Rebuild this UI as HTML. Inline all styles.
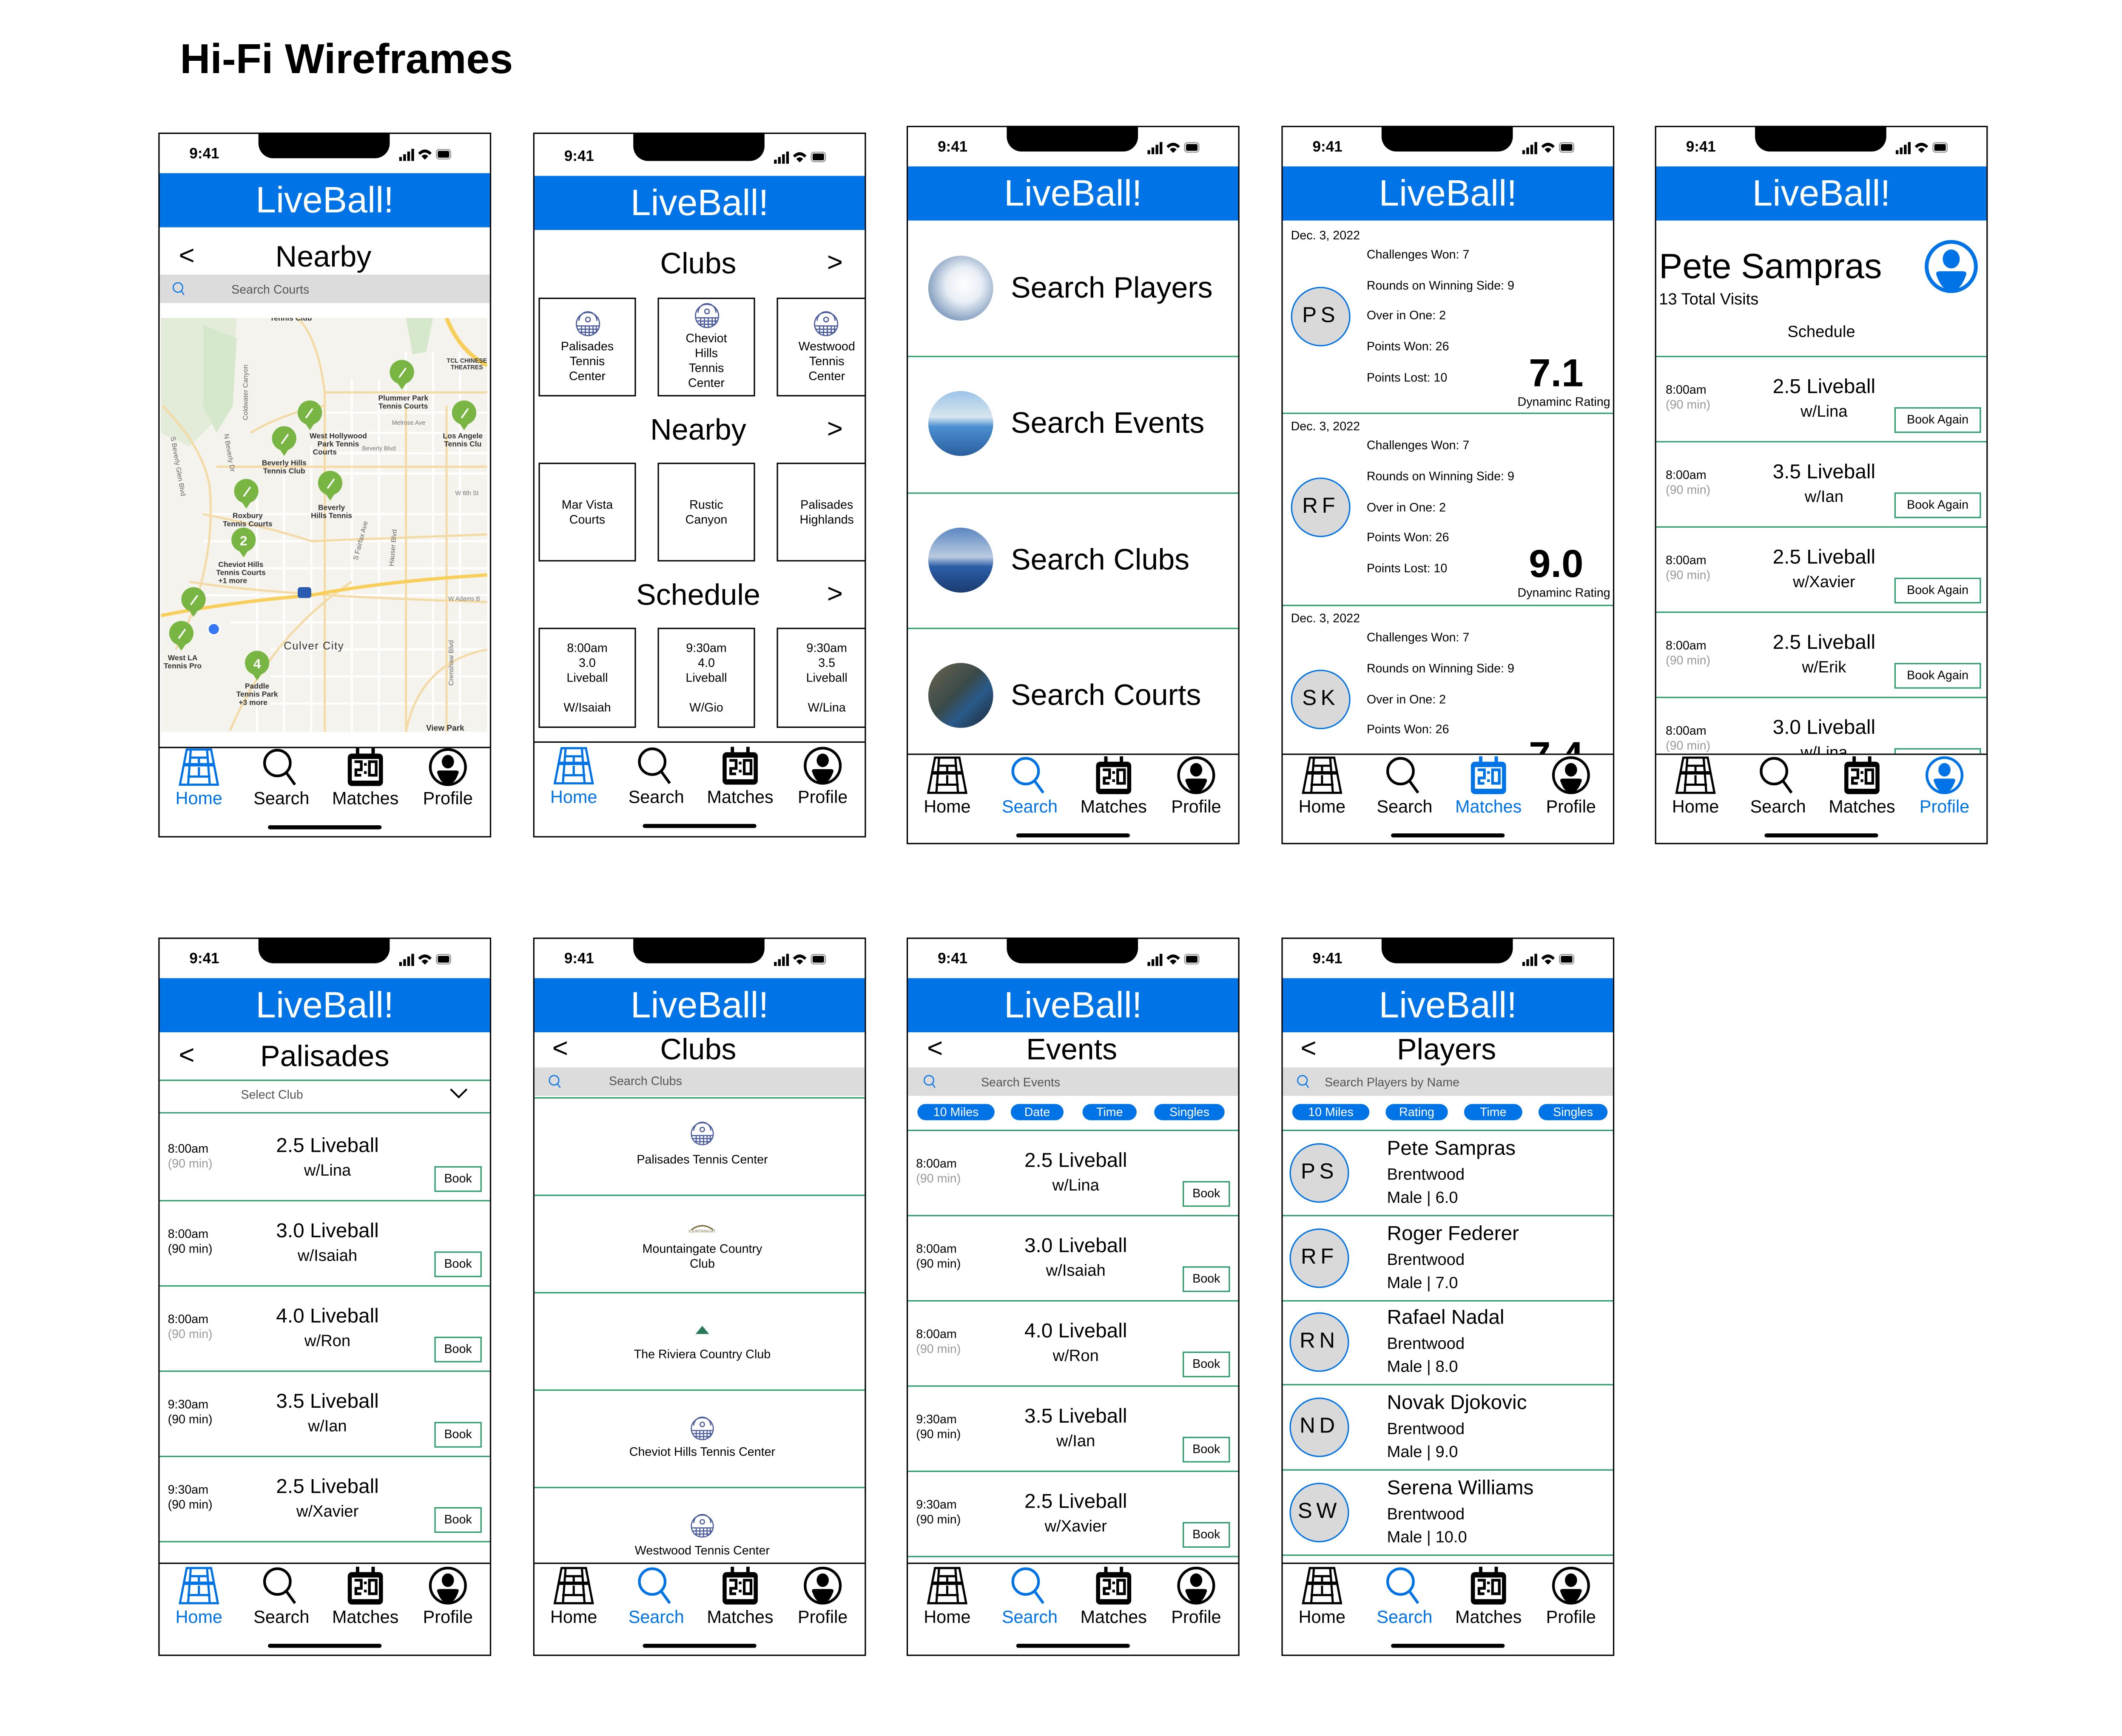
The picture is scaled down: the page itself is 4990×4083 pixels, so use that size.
<!DOCTYPE html>
<html><head><meta charset="utf-8">
<style>
body{margin:0;width:4990px;height:4080px;overflow:hidden;background:#fff}
#s{position:absolute;left:0;top:0;width:1570px;height:1283px;transform:scale(3.182);transform-origin:0 0;font-family:"Liberation Sans",sans-serif;color:#000}
#s div,#s svg{position:absolute}
.ph{border:1px solid #000;box-sizing:border-box;width:246px}
.c{transform:translate(-50%,-50%);white-space:nowrap}
.l{transform:translateY(-50%);white-space:nowrap}
.r{transform:translate(-100%,-50%);white-space:nowrap}
.hd{background:#0073e6;width:244px;height:40px;color:#fff;font-size:27px;text-align:center;line-height:40px}
.hl{height:1px;background:#000;width:244px}
.g{height:1px;background:#2a9d6a;width:244px}
.sb{background:#dcdcdc;height:21px;width:244px}
.bk{border:1px solid #2a9d6a;font-size:9px;text-align:center;box-sizing:border-box}
.ttl{font-size:22px;font-weight:300}
.ch{font-size:20px;font-weight:300}
.tm{font-size:9px}
.gr{color:#999}
.li{font-size:15px}
.w{font-size:12px}
.box{border:1px solid #000;box-sizing:border-box;width:72px;font-size:9px;text-align:center;line-height:11px}
.chip{background:#0073e6;color:#fff;font-size:9px;text-align:center;height:12px;line-height:12px;border-radius:6px}
.av{width:44px;height:44px;border-radius:50%;background:#d9d9d9;border:1px solid #0073e6;box-sizing:border-box;text-align:center;line-height:42px;font-size:16px;letter-spacing:3px}
.tb{width:246px;height:62px}
.tb .lb{font-size:13px}
.ind{width:84px;height:3px;border-radius:2px;background:#000;left:81px}
.st{width:246px;height:20px}
</style></head><body>
<svg width="0" height="0" style="position:absolute">
<defs>
<symbol id="court" viewBox="0 0 30 28"><g fill="none" stroke="currentColor" stroke-width="1.6"><path d="M6 1H24L29 27H1Z"/><path d="M9 1L7 27M21 1L23 27M8 7H22M15 7V11M15 14V21M6.5 21H23.5"/></g><rect x="4" y="11" width="22" height="2.5" fill="currentColor"/></symbol>
<symbol id="srch" viewBox="0 0 30 28"><circle cx="12" cy="11" r="9.5" fill="none" stroke="currentColor" stroke-width="2"/><path d="M18.5 18L25 27" stroke="currentColor" stroke-width="2"/></symbol>
<symbol id="mtch" viewBox="0 0 30 28"><rect x="2" y="4" width="26" height="24" rx="3" fill="currentColor"/><rect x="8" y="0" width="2.5" height="6" fill="currentColor"/><rect x="19.5" y="0" width="2.5" height="6" fill="currentColor"/><rect x="5" y="8" width="20" height="16" fill="#fff"/><path d="M7 10H12V16H8V20H12M15 11V13M15 17V19M18 10H23V20H18Z" fill="none" stroke="currentColor" stroke-width="2"/></symbol>
<symbol id="prof" viewBox="0 0 30 28"><ellipse cx="15" cy="14" rx="13" ry="13" fill="none" stroke="currentColor" stroke-width="2"/><ellipse cx="15" cy="10" rx="4.5" ry="5" fill="currentColor"/><path d="M7 18Q7 16.5 9 16.5H21Q23 16.5 23 18Q20 27 15 27Q10 27 7 18Z" fill="currentColor"/></symbol>
<symbol id="stat" viewBox="0 0 40 10"><rect x="0" y="7" width="2" height="3"/><rect x="3" y="5" width="2" height="5"/><rect x="6" y="3" width="2" height="7"/><rect x="9" y="1" width="2" height="9"/><path d="M14 4Q19 -1 24 4L22.5 5.5Q19 2 15.5 5.5ZM16.5 6.5Q19 4 21.5 6.5L19 9Z"/><rect x="27.5" y="1.5" width="10.5" height="7" rx="2" fill="none" stroke="#999" stroke-width="0.8"/><rect x="28.5" y="2.5" width="8.5" height="5" rx="1"/></symbol>
<symbol id="club" viewBox="0 0 20 20"><g fill="none" stroke="#4b5c9c" stroke-width="0.9"><circle cx="10" cy="10" r="9"/><path d="M3 7.5A7 7 0 0 1 17 7.5"/><path d="M1.2 11.5H18.8M1.5 14H18.5M3 16.5H17M5 11.5V18M8 11.5V19M11 11.5V19M14 11.5V18M16.5 11.5V16"/><circle cx="10" cy="6.5" r="1.8"/></g></symbol>
</defs></svg>
<div id="s">
<div style="left:133px;top:26px;font-size:31px;font-weight:bold;white-space:nowrap">Hi-Fi Wireframes</div>

<!-- ========== P1 Nearby map ========== -->
<div class="ph" style="left:117px;top:98px;height:521px"></div>
<div class="st" style="left:117px;top:98px"><div class="c" style="left:34px;top:16px;font-size:11px;font-weight:bold">9:41</div><div style="left:74px;top:0;width:97px;height:19px;background:#000;border-radius:0 0 11px 11px"></div><svg style="left:178px;top:11px" width="40" height="10"><use href="#stat"/></svg></div>
<div class="hd" style="left:118px;top:128px">LiveBall!</div>
<div class="c ch" style="left:138px;top:190px">&lt;</div>
<div class="c ttl" style="left:239px;top:190px">Nearby</div>
<div class="sb" style="left:118px;top:203px"></div>
<svg style="left:127px;top:208px" width="10" height="11" viewBox="0 0 10 11"><circle cx="4.5" cy="4.5" r="3.5" fill="none" stroke="#0073e6" stroke-width="0.8"/><path d="M7 7L9 10" stroke="#0073e6" stroke-width="0.8"/></svg>
<div class="l tm" style="left:171px;top:214px;color:#555">Search Courts</div>
<svg style="left:119px;top:235px" width="241" height="306" viewBox="119 235 241 306">
<rect x="119" y="235" width="241" height="306" fill="#f5f3ee"/>
<path d="M119 235H175L170 300L140 330L119 320Z" fill="#e2ecd9"/>
<path d="M150 240L175 250L172 300L160 320L150 300Z" fill="#d6e8cc"/>
<path d="M300 235H320L315 260L305 262Z" fill="#d6e8cc"/>
<g stroke="#fff" stroke-width="1.6" fill="none">
<path d="M240 290H360M240 305H360M240 320H360M240 335H360M240 350H360M260 280V541M280 280V541M300 260V541M320 260V541M340 260V541"/>
<path d="M150 380H360M150 400H360M160 420H360M150 440H360M170 460H360M200 480H360M200 500H360M200 520H360M190 360V541M210 350V541M230 330V541"/>
</g>
<g stroke="#f4dba5" stroke-width="1.6" fill="none">
<path d="M220 235Q235 250 240 290V541M240 290H360M185 320Q210 305 240 300M160 345H360M150 380Q200 390 230 400L360 395M140 430Q200 440 360 445M170 540Q200 470 260 430M300 300V541M330 300V541M120 300Q150 330 155 360Q160 420 130 480M360 480Q310 490 300 541"/>
</g>
<path d="M330 235Q340 260 360 270" stroke="#f7cf5a" stroke-width="3" fill="none"/>
<path d="M119 455Q170 445 230 440Q280 430 360 425" stroke="#f7cf5a" stroke-width="2.5" fill="none"/>
<g font-family="Liberation Sans" font-size="5.5" font-weight="bold" fill="#333" text-anchor="middle">
<text x="215" y="237">Tennis Club</text>
<text x="298" y="296">Plummer Park</text><text x="298" y="302">Tennis Courts</text>
<text x="345" y="268" font-size="4.5">TCL CHINESE</text><text x="345" y="273" font-size="4.5">THEATRES</text>
<text x="250" y="324">West Hollywood</text><text x="250" y="330">Park Tennis</text><text x="240" y="336">Courts</text>
<text x="210" y="344">Beverly Hills</text><text x="210" y="350">Tennis Club</text>
<text x="245" y="377">Beverly</text><text x="245" y="383">Hills Tennis</text>
<text x="183" y="383">Roxbury</text><text x="183" y="389">Tennis Courts</text>
<text x="178" y="419">Cheviot Hills</text><text x="178" y="425">Tennis Courts</text><text x="172" y="431">+1 more</text>
<text x="342" y="324">Los Angele</text><text x="342" y="330">Tennis Clu</text>
<text x="135" y="488">West LA</text><text x="135" y="494">Tennis Pro</text>
<text x="190" y="509">Paddle</text><text x="190" y="515">Tennis Park</text><text x="187" y="521">+3 more</text>
<text x="232" y="480" font-size="8" font-weight="normal" letter-spacing="0.5">Culver City</text>
<text x="329" y="540" font-size="6">View Park</text>
<text x="302" y="314" font-size="4.5" font-weight="normal" fill="#777">Melrose Ave</text>
<text x="280" y="333" font-size="4.5" font-weight="normal" fill="#777">Beverly Blvd</text>
<text x="345" y="366" font-size="4.5" font-weight="normal" fill="#777">W 6th St</text>
<text x="343" y="444" font-size="4.5" font-weight="normal" fill="#777">W Adams B</text>
<text transform="translate(183 290) rotate(-90)" font-size="5" font-weight="normal" fill="#666">Coldwater Canyon</text>
<text transform="translate(168 335) rotate(80)" font-size="5" font-weight="normal" fill="#666">N Beverly Dr</text>
<text transform="translate(130 345) rotate(80)" font-size="5" font-weight="normal" fill="#666">S Beverly Glen Blvd</text>
<text transform="translate(268 400) rotate(-75)" font-size="5" font-weight="normal" fill="#666">S Fairfax Ave</text>
<text transform="translate(292 405) rotate(-85)" font-size="5" font-weight="normal" fill="#666">Hauser Blvd</text>
<text transform="translate(335 490) rotate(-90)" font-size="5" font-weight="normal" fill="#666">Crenshaw Blvd</text>
</g>
<g fill="#78b543">
<circle cx="297" cy="275" r="9"/><path d="M293 282L297 288L301 282Z"/>
<circle cx="229" cy="305" r="9"/><path d="M225 312L229 318L233 312Z"/>
<circle cx="343" cy="305" r="9"/><path d="M339 312L343 318L347 312Z"/>
<circle cx="210" cy="324" r="9"/><path d="M206 331L210 337L214 331Z"/>
<circle cx="244" cy="357" r="9"/><path d="M240 364L244 370L248 364Z"/>
<circle cx="182" cy="363" r="9"/><path d="M178 370L182 376L186 370Z"/>
<circle cx="180" cy="399" r="9"/><path d="M176 406L180 412L184 406Z"/>
<circle cx="143" cy="443" r="9"/><path d="M139 450L143 456L147 450Z"/>
<circle cx="134" cy="468" r="9"/><path d="M130 475L134 481L138 475Z"/>
<circle cx="190" cy="490" r="9"/><path d="M186 497L190 503L194 497Z"/>
</g>
<g stroke="#fff" stroke-width="1.2" fill="none">
<path d="M295 279L300 272M226 309L231 302M341 309L346 302M208 328L213 321M242 361L247 354M180 367L185 360M141 447L146 440M132 472L137 465"/>
</g>
<text x="180" y="403" font-size="10" font-weight="bold" fill="#fff" text-anchor="middle" font-family="Liberation Sans">2</text>
<text x="190" y="494" font-size="10" font-weight="bold" fill="#fff" text-anchor="middle" font-family="Liberation Sans">4</text>
<circle cx="158" cy="465" r="5" fill="#fff"/><circle cx="158" cy="465" r="3.8" fill="#3478f6"/>
<rect x="220" y="434" width="10" height="8" rx="2" fill="#2a5bb0"/>
</svg>
<div class="hl" style="left:118px;top:552px"></div>
<div class="tb" style="left:117px;top:553px">
<svg style="left:15px;top:0;color:#0073e6" width="30" height="28"><use href="#court"/></svg>
<svg style="left:76px;top:0" width="30" height="28"><use href="#srch"/></svg>
<svg style="left:138px;top:0" width="30" height="28"><use href="#mtch"/></svg>
<svg style="left:199px;top:0" width="30" height="28"><use href="#prof"/></svg>
<div class="c lb" style="left:30px;top:37px;color:#0073e6">Home</div>
<div class="c lb" style="left:91px;top:37px">Search</div>
<div class="c lb" style="left:153px;top:37px">Matches</div>
<div class="c lb" style="left:214px;top:37px">Profile</div>
<div class="ind" style="top:57px"></div>
</div>

<!-- ========== P2 Home ========== -->
<div class="ph" style="left:394px;top:98px;height:521px"></div>
<div class="st" style="left:394px;top:100px"><div class="c" style="left:34px;top:16px;font-size:11px;font-weight:bold">9:41</div><div style="left:74px;top:-2px;width:97px;height:21px;background:#000;border-radius:0 0 11px 11px"></div><svg style="left:178px;top:11px" width="40" height="10"><use href="#stat"/></svg></div>
<div class="hd" style="left:395px;top:130px">LiveBall!</div>
<div class="c ttl" style="left:516px;top:195px">Clubs</div><div class="c ch" style="left:617px;top:195px">&gt;</div>
<div class="box" style="left:398px;top:220px;height:73px"><svg style="left:26px;top:9px" width="19" height="19"><use href="#club"/></svg><div style="left:0;width:70px;top:30px">Palisades<br>Tennis<br>Center</div></div>
<div class="box" style="left:486px;top:220px;height:73px"><svg style="left:26px;top:3px" width="19" height="19"><use href="#club"/></svg><div style="left:0;width:70px;top:24px">Cheviot<br>Hills<br>Tennis<br>Center</div></div>
<div class="box" style="left:574px;top:220px;height:73px;width:66px;border-right:none"><svg style="left:26px;top:9px" width="19" height="19"><use href="#club"/></svg><div style="left:0;width:72px;top:30px">Westwood<br>Tennis<br>Center</div></div>
<div class="c ttl" style="left:516px;top:318px">Nearby</div><div class="c ch" style="left:617px;top:318px">&gt;</div>
<div class="box" style="left:398px;top:342px;height:73px"><div style="left:0;width:70px;top:25px">Mar Vista<br>Courts</div></div>
<div class="box" style="left:486px;top:342px;height:73px"><div style="left:0;width:70px;top:25px">Rustic<br>Canyon</div></div>
<div class="box" style="left:574px;top:342px;height:73px;width:66px;border-right:none"><div style="left:0;width:72px;top:25px">Palisades<br>Highlands</div></div>
<div class="c ttl" style="left:516px;top:440px">Schedule</div><div class="c ch" style="left:617px;top:440px">&gt;</div>
<div class="box" style="left:398px;top:464px;height:74px"><div style="left:0;width:70px;top:9px">8:00am<br>3.0<br>Liveball<br><br>W/Isaiah</div></div>
<div class="box" style="left:486px;top:464px;height:74px"><div style="left:0;width:70px;top:9px">9:30am<br>4.0<br>Liveball<br><br>W/Gio</div></div>
<div class="box" style="left:574px;top:464px;height:74px;width:66px;border-right:none"><div style="left:0;width:72px;top:9px">9:30am<br>3.5<br>Liveball<br><br>W/Lina</div></div>
<div class="hl" style="left:395px;top:548px"></div>
<div class="tb" style="left:394px;top:552px">
<svg style="left:15px;top:0;color:#0073e6" width="30" height="28"><use href="#court"/></svg>
<svg style="left:76px;top:0" width="30" height="28"><use href="#srch"/></svg>
<svg style="left:138px;top:0" width="30" height="28"><use href="#mtch"/></svg>
<svg style="left:199px;top:0" width="30" height="28"><use href="#prof"/></svg>
<div class="c lb" style="left:30px;top:37px;color:#0073e6">Home</div>
<div class="c lb" style="left:91px;top:37px">Search</div>
<div class="c lb" style="left:153px;top:37px">Matches</div>
<div class="c lb" style="left:214px;top:37px">Profile</div>
<div class="ind" style="top:57px"></div>
</div>

<!-- ========== P3 Search ========== -->
<div class="ph" style="left:670px;top:93px;height:531px"></div>
<div class="st" style="left:670px;top:93px"><div class="c" style="left:34px;top:16px;font-size:11px;font-weight:bold">9:41</div><div style="left:74px;top:0;width:97px;height:19px;background:#000;border-radius:0 0 11px 11px"></div><svg style="left:178px;top:11px" width="40" height="10"><use href="#stat"/></svg></div>
<div class="hd" style="left:671px;top:123px">LiveBall!</div>
<div style="left:686px;top:189px;width:48px;height:48px;border-radius:50%;background:radial-gradient(circle at 55% 45%,#fff 0,#e8eef5 35%,#8aa4c4 70%,#5a6d8a 100%)"></div>
<div style="left:686px;top:289px;width:48px;height:48px;border-radius:50%;background:linear-gradient(#9cc4e8 0,#d8e6ef 40%,#4b8fd0 55%,#2a5f9e 100%)"></div>
<div style="left:686px;top:390px;width:48px;height:48px;border-radius:50%;background:linear-gradient(#5b86c2 0,#b9cbe0 45%,#2c5ea8 60%,#1a3c70 100%)"></div>
<div style="left:686px;top:490px;width:48px;height:48px;border-radius:50%;background:linear-gradient(135deg,#6a6550 0,#3a4a48 45%,#2a5a8a 65%,#1c2630 100%)"></div>
<div class="l" style="left:747px;top:213px;font-size:22px">Search Players</div>
<div class="l" style="left:747px;top:313px;font-size:22px">Search Events</div>
<div class="l" style="left:747px;top:414px;font-size:22px">Search Clubs</div>
<div class="l" style="left:747px;top:514px;font-size:22px">Search Courts</div>
<div class="g" style="left:671px;top:263px"></div>
<div class="g" style="left:671px;top:364px"></div>
<div class="g" style="left:671px;top:464px"></div>
<div class="hl" style="left:671px;top:557px"></div>
<div class="tb" style="left:670px;top:559px">
<svg style="left:15px;top:0" width="30" height="28"><use href="#court"/></svg>
<svg style="left:76px;top:0;color:#0073e6" width="30" height="28"><use href="#srch"/></svg>
<svg style="left:138px;top:0" width="30" height="28"><use href="#mtch"/></svg>
<svg style="left:199px;top:0" width="30" height="28"><use href="#prof"/></svg>
<div class="c lb" style="left:30px;top:37px">Home</div>
<div class="c lb" style="left:91px;top:37px;color:#0073e6">Search</div>
<div class="c lb" style="left:153px;top:37px">Matches</div>
<div class="c lb" style="left:214px;top:37px">Profile</div>
<div class="ind" style="top:57px"></div>
</div>

<!-- ========== P4 Matches ========== -->
<div class="ph" style="left:947px;top:93px;height:531px"></div>
<div class="st" style="left:947px;top:93px"><div class="c" style="left:34px;top:16px;font-size:11px;font-weight:bold">9:41</div><div style="left:74px;top:0;width:97px;height:19px;background:#000;border-radius:0 0 11px 11px"></div><svg style="left:178px;top:11px" width="40" height="10"><use href="#stat"/></svg></div>
<div class="hd" style="left:948px;top:123px">LiveBall!</div>
<div style="left:948px;top:163px;width:244px;height:394px;overflow:hidden">
<div class="l tm" style="left:6px;top:11px">Dec. 3, 2022</div>
<div class="l tm" style="left:62px;top:25px">Challenges Won: 7</div>
<div class="l tm" style="left:62px;top:48px">Rounds on Winning Side: 9</div>
<div class="l tm" style="left:62px;top:70px">Over in One: 2</div>
<div class="l tm" style="left:62px;top:93px">Points Won: 26</div>
<div class="l tm" style="left:62px;top:116px">Points Lost: 10</div>
<div class="av" style="left:6px;top:49px">PS</div>
<div class="c" style="left:202px;top:114px;font-size:29px;font-weight:bold">7.1</div>
<div class="r tm" style="left:242px;top:134px">Dynaminc Rating</div>
<div class="g" style="left:0;top:142px"></div>
<div class="l tm" style="left:6px;top:152px">Dec. 3, 2022</div>
<div class="l tm" style="left:62px;top:166px">Challenges Won: 7</div>
<div class="l tm" style="left:62px;top:189px">Rounds on Winning Side: 9</div>
<div class="l tm" style="left:62px;top:212px">Over in One: 2</div>
<div class="l tm" style="left:62px;top:234px">Points Won: 26</div>
<div class="l tm" style="left:62px;top:257px">Points Lost: 10</div>
<div class="av" style="left:6px;top:190px">RF</div>
<div class="c" style="left:202px;top:255px;font-size:29px;font-weight:bold">9.0</div>
<div class="r tm" style="left:242px;top:275px">Dynaminc Rating</div>
<div class="g" style="left:0;top:284px"></div>
<div class="l tm" style="left:6px;top:294px">Dec. 3, 2022</div>
<div class="l tm" style="left:62px;top:308px">Challenges Won: 7</div>
<div class="l tm" style="left:62px;top:331px">Rounds on Winning Side: 9</div>
<div class="l tm" style="left:62px;top:354px">Over in One: 2</div>
<div class="l tm" style="left:62px;top:376px">Points Won: 26</div>
<div class="av" style="left:6px;top:332px">SK</div>
<div class="c" style="left:202px;top:397px;font-size:29px;font-weight:bold">7.4</div>
</div>
<div class="hl" style="left:948px;top:557px"></div>
<div class="tb" style="left:947px;top:559px">
<svg style="left:15px;top:0" width="30" height="28"><use href="#court"/></svg>
<svg style="left:76px;top:0" width="30" height="28"><use href="#srch"/></svg>
<svg style="left:138px;top:0;color:#0073e6" width="30" height="28"><use href="#mtch"/></svg>
<svg style="left:199px;top:0" width="30" height="28"><use href="#prof"/></svg>
<div class="c lb" style="left:30px;top:37px">Home</div>
<div class="c lb" style="left:91px;top:37px">Search</div>
<div class="c lb" style="left:153px;top:37px;color:#0073e6">Matches</div>
<div class="c lb" style="left:214px;top:37px">Profile</div>
<div class="ind" style="top:57px"></div>
</div>

<!-- ========== P5 Profile ========== -->
<div class="ph" style="left:1223px;top:93px;height:531px"></div>
<div class="st" style="left:1223px;top:93px"><div class="c" style="left:34px;top:16px;font-size:11px;font-weight:bold">9:41</div><div style="left:74px;top:0;width:97px;height:19px;background:#000;border-radius:0 0 11px 11px"></div><svg style="left:178px;top:11px" width="40" height="10"><use href="#stat"/></svg></div>
<div class="hd" style="left:1224px;top:123px">LiveBall!</div>
<div class="l" style="left:1226px;top:197px;font-size:26px">Pete Sampras</div>
<div class="l" style="left:1226px;top:221px;font-size:12px">13 Total Visits</div>
<svg style="left:1421px;top:177px;color:#0073e6" width="42" height="40" viewBox="0 0 30 28"><use href="#prof"/></svg>
<div class="c" style="left:1346px;top:245px;font-size:12px">Schedule</div>
<div style="left:1224px;top:263px;width:244px;height:294px;overflow:hidden">
<div class="g" style="left:0;top:0"></div>
<div class="l tm" style="left:7px;top:25px">8:00am</div><div class="l tm gr" style="left:7px;top:36px">(90 min)</div><div class="c li" style="left:124px;top:23px">2.5 Liveball</div><div class="c w" style="left:124px;top:41px">w/Lina</div><div class="bk" style="left:176px;top:38px;width:64px;height:19px;line-height:17px">Book Again</div>
<div class="g" style="left:0;top:63px"></div>
<div class="l tm" style="left:7px;top:88px">8:00am</div><div class="l tm gr" style="left:7px;top:99px">(90 min)</div><div class="c li" style="left:124px;top:86px">3.5 Liveball</div><div class="c w" style="left:124px;top:104px">w/Ian</div><div class="bk" style="left:176px;top:101px;width:64px;height:19px;line-height:17px">Book Again</div>
<div class="g" style="left:0;top:126px"></div>
<div class="l tm" style="left:7px;top:151px">8:00am</div><div class="l tm gr" style="left:7px;top:162px">(90 min)</div><div class="c li" style="left:124px;top:149px">2.5 Liveball</div><div class="c w" style="left:124px;top:167px">w/Xavier</div><div class="bk" style="left:176px;top:164px;width:64px;height:19px;line-height:17px">Book Again</div>
<div class="g" style="left:0;top:189px"></div>
<div class="l tm" style="left:7px;top:214px">8:00am</div><div class="l tm gr" style="left:7px;top:225px">(90 min)</div><div class="c li" style="left:124px;top:212px">2.5 Liveball</div><div class="c w" style="left:124px;top:230px">w/Erik</div><div class="bk" style="left:176px;top:227px;width:64px;height:19px;line-height:17px">Book Again</div>
<div class="g" style="left:0;top:252px"></div>
<div class="l tm" style="left:7px;top:277px">8:00am</div><div class="l tm gr" style="left:7px;top:288px">(90 min)</div><div class="c li" style="left:124px;top:275px">3.0 Liveball</div><div class="c w" style="left:124px;top:293px">w/Lina</div><div class="bk" style="left:176px;top:290px;width:64px;height:19px"></div>
</div>
<div class="hl" style="left:1224px;top:557px"></div>
<div class="tb" style="left:1223px;top:559px">
<svg style="left:15px;top:0" width="30" height="28"><use href="#court"/></svg>
<svg style="left:76px;top:0" width="30" height="28"><use href="#srch"/></svg>
<svg style="left:138px;top:0" width="30" height="28"><use href="#mtch"/></svg>
<svg style="left:199px;top:0;color:#0073e6" width="30" height="28"><use href="#prof"/></svg>
<div class="c lb" style="left:30px;top:37px">Home</div>
<div class="c lb" style="left:91px;top:37px">Search</div>
<div class="c lb" style="left:153px;top:37px">Matches</div>
<div class="c lb" style="left:214px;top:37px;color:#0073e6">Profile</div>
<div class="ind" style="top:57px"></div>
</div>

<!-- ========== P6 Palisades ========== -->
<div class="ph" style="left:117px;top:693px;height:531px"></div>
<div class="st" style="left:117px;top:693px"><div class="c" style="left:34px;top:16px;font-size:11px;font-weight:bold">9:41</div><div style="left:74px;top:0;width:97px;height:19px;background:#000;border-radius:0 0 11px 11px"></div><svg style="left:178px;top:11px" width="40" height="10"><use href="#stat"/></svg></div>
<div class="hd" style="left:118px;top:723px">LiveBall!</div>
<div class="c ch" style="left:138px;top:781px">&lt;</div>
<div class="c ttl" style="left:240px;top:781px">Palisades</div>
<div class="g" style="left:118px;top:798px"></div>
<div class="l tm" style="left:178px;top:809px;color:#555">Select Club</div>
<svg style="left:332px;top:804px" width="14" height="9" viewBox="0 0 14 9"><path d="M1 1L7 7L13 1" fill="none" stroke="#000" stroke-width="1.3"/></svg>
<div style="left:118px;top:822px;width:244px;height:333px;overflow:hidden">
<div class="g" style="left:0;top:0"></div>
<div class="l tm" style="left:6px;top:27px">8:00am</div><div class="l tm gr" style="left:6px;top:38px">(90 min)</div><div class="c li" style="left:124px;top:25px">2.5 Liveball</div><div class="c w" style="left:124px;top:43px">w/Lina</div><div class="bk" style="left:203px;top:40px;width:35px;height:19px;line-height:17px">Book</div>
<div class="g" style="left:0;top:65px"></div>
<div class="l tm" style="left:6px;top:90px">8:00am</div><div class="l tm" style="left:6px;top:101px">(90 min)</div><div class="c li" style="left:124px;top:88px">3.0 Liveball</div><div class="c w" style="left:124px;top:106px">w/Isaiah</div><div class="bk" style="left:203px;top:103px;width:35px;height:19px;line-height:17px">Book</div>
<div class="g" style="left:0;top:128px"></div>
<div class="l tm" style="left:6px;top:153px">8:00am</div><div class="l tm gr" style="left:6px;top:164px">(90 min)</div><div class="c li" style="left:124px;top:151px">4.0 Liveball</div><div class="c w" style="left:124px;top:169px">w/Ron</div><div class="bk" style="left:203px;top:166px;width:35px;height:19px;line-height:17px">Book</div>
<div class="g" style="left:0;top:191px"></div>
<div class="l tm" style="left:6px;top:216px">9:30am</div><div class="l tm" style="left:6px;top:227px">(90 min)</div><div class="c li" style="left:124px;top:214px">3.5 Liveball</div><div class="c w" style="left:124px;top:232px">w/Ian</div><div class="bk" style="left:203px;top:229px;width:35px;height:19px;line-height:17px">Book</div>
<div class="g" style="left:0;top:254px"></div>
<div class="l tm" style="left:6px;top:279px">9:30am</div><div class="l tm" style="left:6px;top:290px">(90 min)</div><div class="c li" style="left:124px;top:277px">2.5 Liveball</div><div class="c w" style="left:124px;top:295px">w/Xavier</div><div class="bk" style="left:203px;top:292px;width:35px;height:19px;line-height:17px">Book</div>
<div class="g" style="left:0;top:317px"></div>
</div>
<div class="hl" style="left:118px;top:1155px"></div>
<div class="tb" style="left:117px;top:1158px">
<svg style="left:15px;top:0;color:#0073e6" width="30" height="28"><use href="#court"/></svg>
<svg style="left:76px;top:0" width="30" height="28"><use href="#srch"/></svg>
<svg style="left:138px;top:0" width="30" height="28"><use href="#mtch"/></svg>
<svg style="left:199px;top:0" width="30" height="28"><use href="#prof"/></svg>
<div class="c lb" style="left:30px;top:37px;color:#0073e6">Home</div>
<div class="c lb" style="left:91px;top:37px">Search</div>
<div class="c lb" style="left:153px;top:37px">Matches</div>
<div class="c lb" style="left:214px;top:37px">Profile</div>
<div class="ind" style="top:57px"></div>
</div>

<!-- ========== P7 Clubs ========== -->
<div class="ph" style="left:394px;top:693px;height:531px"></div>
<div class="st" style="left:394px;top:693px"><div class="c" style="left:34px;top:16px;font-size:11px;font-weight:bold">9:41</div><div style="left:74px;top:0;width:97px;height:19px;background:#000;border-radius:0 0 11px 11px"></div><svg style="left:178px;top:11px" width="40" height="10"><use href="#stat"/></svg></div>
<div class="hd" style="left:395px;top:723px">LiveBall!</div>
<div class="c ch" style="left:414px;top:776px">&lt;</div>
<div class="c ttl" style="left:516px;top:776px">Clubs</div>
<div class="sb" style="left:395px;top:789px"></div>
<svg style="left:405px;top:794px" width="10" height="11" viewBox="0 0 10 11"><circle cx="4.5" cy="4.5" r="3.5" fill="none" stroke="#0073e6" stroke-width="0.8"/><path d="M7 7L9 10" stroke="#0073e6" stroke-width="0.8"/></svg>
<div class="l tm" style="left:450px;top:799px;color:#555">Search Clubs</div>
<div class="g" style="left:395px;top:811px"></div>
<svg style="left:510px;top:829px" width="18" height="18"><use href="#club"/></svg>
<div class="c tm" style="left:519px;top:857px">Palisades Tennis Center</div>
<div class="g" style="left:395px;top:883px"></div>
<svg style="left:509px;top:903px" width="20" height="8" viewBox="0 0 20 8"><path d="M2 6Q10 0 18 6" fill="none" stroke="#7a6a3a" stroke-width="1"/><text x="10" y="8" font-size="3" text-anchor="middle" fill="#7a6a3a" font-family="Liberation Sans">MOUNTAINGATE</text></svg>
<div class="c tm" style="left:519px;top:929px;text-align:center;line-height:11px">Mountaingate Country<br>Club</div>
<div class="g" style="left:395px;top:955px"></div>
<svg style="left:513px;top:979px" width="12" height="8" viewBox="0 0 12 8"><path d="M1 7L6 1L11 7Z" fill="#2a7a5a"/></svg>
<div class="c tm" style="left:519px;top:1001px">The Riviera Country Club</div>
<div class="g" style="left:395px;top:1027px"></div>
<svg style="left:510px;top:1047px" width="18" height="18"><use href="#club"/></svg>
<div class="c tm" style="left:519px;top:1073px">Cheviot Hills Tennis Center</div>
<div class="g" style="left:395px;top:1099px"></div>
<svg style="left:510px;top:1119px" width="18" height="18"><use href="#club"/></svg>
<div class="c tm" style="left:519px;top:1146px">Westwood Tennis Center</div>
<div class="hl" style="left:395px;top:1155px"></div>
<div class="tb" style="left:394px;top:1158px">
<svg style="left:15px;top:0" width="30" height="28"><use href="#court"/></svg>
<svg style="left:76px;top:0;color:#0073e6" width="30" height="28"><use href="#srch"/></svg>
<svg style="left:138px;top:0" width="30" height="28"><use href="#mtch"/></svg>
<svg style="left:199px;top:0" width="30" height="28"><use href="#prof"/></svg>
<div class="c lb" style="left:30px;top:37px">Home</div>
<div class="c lb" style="left:91px;top:37px;color:#0073e6">Search</div>
<div class="c lb" style="left:153px;top:37px">Matches</div>
<div class="c lb" style="left:214px;top:37px">Profile</div>
<div class="ind" style="top:57px"></div>
</div>

<!-- ========== P8 Events ========== -->
<div class="ph" style="left:670px;top:693px;height:531px"></div>
<div class="st" style="left:670px;top:693px"><div class="c" style="left:34px;top:16px;font-size:11px;font-weight:bold">9:41</div><div style="left:74px;top:0;width:97px;height:19px;background:#000;border-radius:0 0 11px 11px"></div><svg style="left:178px;top:11px" width="40" height="10"><use href="#stat"/></svg></div>
<div class="hd" style="left:671px;top:723px">LiveBall!</div>
<div class="c ch" style="left:691px;top:776px">&lt;</div>
<div class="c ttl" style="left:792px;top:776px">Events</div>
<div class="sb" style="left:671px;top:789px"></div>
<svg style="left:682px;top:794px" width="10" height="11" viewBox="0 0 10 11"><circle cx="4.5" cy="4.5" r="3.5" fill="none" stroke="#0073e6" stroke-width="0.8"/><path d="M7 7L9 10" stroke="#0073e6" stroke-width="0.8"/></svg>
<div class="l tm" style="left:725px;top:800px;color:#555">Search Events</div>
<div class="chip" style="left:678px;top:816px;width:57px">10 Miles</div>
<div class="chip" style="left:747px;top:816px;width:39px">Date</div>
<div class="chip" style="left:800px;top:816px;width:40px">Time</div>
<div class="chip" style="left:853px;top:816px;width:52px">Singles</div>
<div style="left:671px;top:835px;width:244px;height:320px;overflow:hidden">
<div class="g" style="left:0;top:0"></div>
<div class="l tm" style="left:6px;top:25px">8:00am</div><div class="l tm gr" style="left:6px;top:36px">(90 min)</div><div class="c li" style="left:124px;top:23px">2.5 Liveball</div><div class="c w" style="left:124px;top:41px">w/Lina</div><div class="bk" style="left:203px;top:38px;width:35px;height:19px;line-height:17px">Book</div>
<div class="g" style="left:0;top:63px"></div>
<div class="l tm" style="left:6px;top:88px">8:00am</div><div class="l tm" style="left:6px;top:99px">(90 min)</div><div class="c li" style="left:124px;top:86px">3.0 Liveball</div><div class="c w" style="left:124px;top:104px">w/Isaiah</div><div class="bk" style="left:203px;top:101px;width:35px;height:19px;line-height:17px">Book</div>
<div class="g" style="left:0;top:126px"></div>
<div class="l tm" style="left:6px;top:151px">8:00am</div><div class="l tm gr" style="left:6px;top:162px">(90 min)</div><div class="c li" style="left:124px;top:149px">4.0 Liveball</div><div class="c w" style="left:124px;top:167px">w/Ron</div><div class="bk" style="left:203px;top:164px;width:35px;height:19px;line-height:17px">Book</div>
<div class="g" style="left:0;top:189px"></div>
<div class="l tm" style="left:6px;top:214px">9:30am</div><div class="l tm" style="left:6px;top:225px">(90 min)</div><div class="c li" style="left:124px;top:212px">3.5 Liveball</div><div class="c w" style="left:124px;top:230px">w/Ian</div><div class="bk" style="left:203px;top:227px;width:35px;height:19px;line-height:17px">Book</div>
<div class="g" style="left:0;top:252px"></div>
<div class="l tm" style="left:6px;top:277px">9:30am</div><div class="l tm" style="left:6px;top:288px">(90 min)</div><div class="c li" style="left:124px;top:275px">2.5 Liveball</div><div class="c w" style="left:124px;top:293px">w/Xavier</div><div class="bk" style="left:203px;top:290px;width:35px;height:19px;line-height:17px">Book</div>
<div class="g" style="left:0;top:315px"></div>
</div>
<div class="hl" style="left:671px;top:1155px"></div>
<div class="tb" style="left:670px;top:1158px">
<svg style="left:15px;top:0" width="30" height="28"><use href="#court"/></svg>
<svg style="left:76px;top:0;color:#0073e6" width="30" height="28"><use href="#srch"/></svg>
<svg style="left:138px;top:0" width="30" height="28"><use href="#mtch"/></svg>
<svg style="left:199px;top:0" width="30" height="28"><use href="#prof"/></svg>
<div class="c lb" style="left:30px;top:37px">Home</div>
<div class="c lb" style="left:91px;top:37px;color:#0073e6">Search</div>
<div class="c lb" style="left:153px;top:37px">Matches</div>
<div class="c lb" style="left:214px;top:37px">Profile</div>
<div class="ind" style="top:57px"></div>
</div>

<!-- ========== P9 Players ========== -->
<div class="ph" style="left:947px;top:693px;height:531px"></div>
<div class="st" style="left:947px;top:693px"><div class="c" style="left:34px;top:16px;font-size:11px;font-weight:bold">9:41</div><div style="left:74px;top:0;width:97px;height:19px;background:#000;border-radius:0 0 11px 11px"></div><svg style="left:178px;top:11px" width="40" height="10"><use href="#stat"/></svg></div>
<div class="hd" style="left:948px;top:723px">LiveBall!</div>
<div class="c ch" style="left:967px;top:776px">&lt;</div>
<div class="c ttl" style="left:1069px;top:776px">Players</div>
<div class="sb" style="left:948px;top:789px"></div>
<svg style="left:958px;top:794px" width="10" height="11" viewBox="0 0 10 11"><circle cx="4.5" cy="4.5" r="3.5" fill="none" stroke="#0073e6" stroke-width="0.8"/><path d="M7 7L9 10" stroke="#0073e6" stroke-width="0.8"/></svg>
<div class="l tm" style="left:979px;top:800px;color:#555">Search Players by Name</div>
<div class="chip" style="left:955px;top:816px;width:57px">10 Miles</div>
<div class="chip" style="left:1024px;top:816px;width:46px">Rating</div>
<div class="chip" style="left:1082px;top:816px;width:43px">Time</div>
<div class="chip" style="left:1137px;top:816px;width:51px">Singles</div>
<div class="g" style="left:948px;top:835px"></div>
<div class="av" style="left:953px;top:845px">PS</div><div class="l li" style="left:1025px;top:849px">Pete Sampras</div><div class="l w" style="left:1025px;top:868px">Brentwood</div><div class="l w" style="left:1025px;top:885px">Male | 6.0</div>
<div class="g" style="left:948px;top:898px"></div>
<div class="av" style="left:953px;top:908px">RF</div><div class="l li" style="left:1025px;top:912px">Roger Federer</div><div class="l w" style="left:1025px;top:931px">Brentwood</div><div class="l w" style="left:1025px;top:948px">Male | 7.0</div>
<div class="g" style="left:948px;top:961px"></div>
<div class="av" style="left:953px;top:970px">RN</div><div class="l li" style="left:1025px;top:974px">Rafael Nadal</div><div class="l w" style="left:1025px;top:993px">Brentwood</div><div class="l w" style="left:1025px;top:1010px">Male | 8.0</div>
<div class="g" style="left:948px;top:1023px"></div>
<div class="av" style="left:953px;top:1033px">ND</div><div class="l li" style="left:1025px;top:1037px">Novak Djokovic</div><div class="l w" style="left:1025px;top:1056px">Brentwood</div><div class="l w" style="left:1025px;top:1073px">Male | 9.0</div>
<div class="g" style="left:948px;top:1086px"></div>
<div class="av" style="left:953px;top:1096px">SW</div><div class="l li" style="left:1025px;top:1100px">Serena Williams</div><div class="l w" style="left:1025px;top:1119px">Brentwood</div><div class="l w" style="left:1025px;top:1136px">Male | 10.0</div>
<div class="g" style="left:948px;top:1149px"></div>
<div class="hl" style="left:948px;top:1155px"></div>
<div class="tb" style="left:947px;top:1158px">
<svg style="left:15px;top:0" width="30" height="28"><use href="#court"/></svg>
<svg style="left:76px;top:0;color:#0073e6" width="30" height="28"><use href="#srch"/></svg>
<svg style="left:138px;top:0" width="30" height="28"><use href="#mtch"/></svg>
<svg style="left:199px;top:0" width="30" height="28"><use href="#prof"/></svg>
<div class="c lb" style="left:30px;top:37px">Home</div>
<div class="c lb" style="left:91px;top:37px;color:#0073e6">Search</div>
<div class="c lb" style="left:153px;top:37px">Matches</div>
<div class="c lb" style="left:214px;top:37px">Profile</div>
<div class="ind" style="top:57px"></div>
</div>
</div>
</body></html>
